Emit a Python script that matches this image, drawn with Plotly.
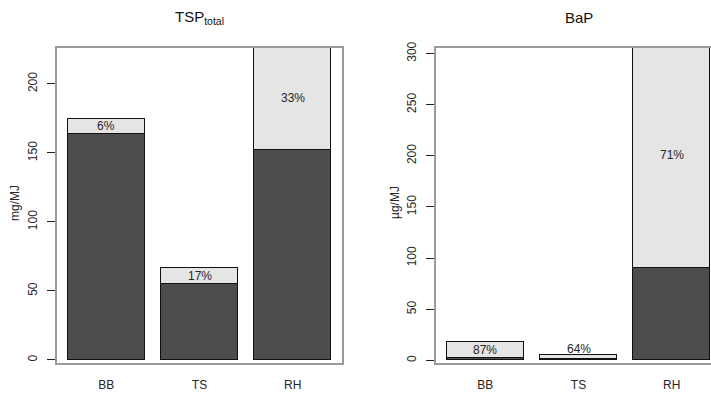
import plotly.graph_objects as go

categories = ["BB", "TS", "RH"]
tsp_dark = [164, 55, 152]
tsp_light = [10.5, 11.4, 75]
tsp_pct = ["6%", "17%", "33%"]
bap_dark = [2.3, 1.9, 90.2]
bap_light = [15.3, 3.4, 221]
bap_pct = ["87%", "64%", "71%"]

DARK = "#4D4D4D"
LIGHT = "#E5E5E5"
BOX = "#9A9A9A"
TXT = "#262626"

W, H = 711, 393
xpos = [0.7, 1.9, 3.1]

fig = go.Figure()

def add_panel(dark, light, xa, ya):
    fig.add_trace(go.Bar(x=xpos, y=dark, width=1, marker=dict(color=DARK, line=dict(color="#111", width=1)),
                         xaxis=xa, yaxis=ya, showlegend=False, hoverinfo="skip"))
    fig.add_trace(go.Bar(x=xpos, y=light, width=1, marker=dict(color=LIGHT, line=dict(color="#111", width=1)),
                         xaxis=xa, yaxis=ya, showlegend=False, hoverinfo="skip"))

add_panel(tsp_dark, tsp_light, "x", "y")
add_panel(bap_dark, bap_light, "x2", "y2")

ydom = [(H - 363) / H, (H - 48) / H]
axis_common = dict(showgrid=False, zeroline=False, showline=True, linecolor=BOX, linewidth=2,
                   mirror=True, automargin=False)

fig.update_layout(
    width=W, height=H, margin=dict(l=0, r=0, t=0, b=0, autoexpand=False),
    plot_bgcolor="white", paper_bgcolor="white", barmode="stack", bargap=0,
    font=dict(family="Liberation Sans, Arial", size=12, color=TXT),
    xaxis=dict(domain=[57 / W, 342 / W], range=[0.064, 3.736], tickvals=xpos, ticktext=categories,
               ticks="", ticklabelstandoff=10, **axis_common),
    yaxis=dict(domain=ydom, range=[-2.2, 226], tickvals=[0, 50, 100, 150, 200], ticks="outside",
               ticklen=8, tickcolor="#222", tickangle=-90, ticklabelstandoff=5, **axis_common),
    xaxis2=dict(domain=[436 / W, 1.0], range=[0.064, 3.607], tickvals=xpos, ticktext=categories,
                ticks="", ticklabelstandoff=10, anchor="y2", **axis_common),
    yaxis2=dict(domain=ydom, range=[-2.5, 305.4], tickvals=[0, 50, 100, 150, 200, 250, 300], ticks="outside",
                ticklen=8, tickcolor="#222", tickangle=-90, ticklabelstandoff=5, anchor="x2", **axis_common),
)

def labels(dark, light, pct, xa, ya, yrange, px_height):
    units_per_px = (yrange[1] - yrange[0]) / px_height
    for xv, d, l, p in zip(xpos, dark, light, pct):
        seg_px = l / units_per_px
        if seg_px >= 12:
            fig.add_annotation(x=xv, y=d + l / 2, text=p, xref=xa, yref=ya, showarrow=False,
                               xanchor="center", yanchor="middle", font=dict(size=12, color=TXT))
        else:
            fig.add_annotation(x=xv, y=d + l, text=p, xref=xa, yref=ya, showarrow=False,
                               xanchor="center", yanchor="bottom", yshift=-3, font=dict(size=12, color=TXT))

labels(tsp_dark, tsp_light, tsp_pct, "x", "y", [-2.2, 226], 315)
labels(bap_dark, bap_light, bap_pct, "x2", "y2", [-2.5, 305.4], 315)

def paper_ann(px, py, text, size, color, angle=0):
    fig.add_annotation(x=px / W, y=1 - py / H, xref="paper", yref="paper", text=text, textangle=angle,
                       xanchor="center", yanchor="middle", showarrow=False,
                       font=dict(size=size, color=color))

paper_ann(199.5, 18, "TSP<sub>total</sub>", 15, "#111")
paper_ann(578.5, 17, "BaP", 15, "#111")
paper_ann(15, 203, "mg/MJ", 12, TXT, -90)
paper_ann(395, 203, "µg/MJ", 12, TXT, -90)

fig.write_html("out.html", config={"displayModeBar": False},
               post_script="document.body.style.margin='0';document.body.style.overflow='hidden';")
